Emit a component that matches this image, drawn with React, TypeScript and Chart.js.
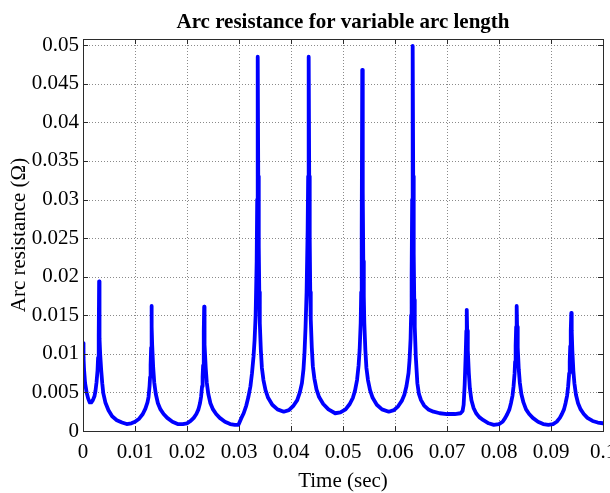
import React, { useEffect, useRef } from "react";
import { Chart, registerables } from "chart.js";

Chart.register(...registerables);

const TITLE = "Arc resistance for variable arc length";
const X_LABEL = "Time (sec)";
const Y_LABEL = "Arc resistance (Ω)";

const xTickValues = [0, 0.01, 0.02, 0.03, 0.04, 0.05, 0.06, 0.07, 0.08, 0.09, 0.1];
const xTickLabels = ["0", "0.01", "0.02", "0.03", "0.04", "0.05", "0.06", "0.07", "0.08", "0.09", "0.1"];
const yTickValues = [0, 0.005, 0.01, 0.015, 0.02, 0.025, 0.03, 0.035, 0.04, 0.045, 0.05];
const yTickLabels = ["0", "0.005", "0.01", "0.015", "0.02", "0.025", "0.03", "0.035", "0.04", "0.045", "0.05"];

const X_MIN = 0;
const X_MAX = 0.1;
const Y_MIN = 0;
const Y_MAX = 0.0508;

const time = [
  0.0, 0.0001, 0.0002, 0.0004, 0.0007, 0.001, 0.0013, 0.0016, 0.0019, 0.0022, 0.0024, 0.0026, 0.0028, 0.0029, 0.003, 0.00305,
  0.0031, 0.00315, 0.0032, 0.0033, 0.0035, 0.0037, 0.0039, 0.0043, 0.0049, 0.0056, 0.0065, 0.0075, 0.0084, 0.0093, 0.01,
  0.0108, 0.0115, 0.012, 0.0124, 0.0126, 0.0128, 0.0129, 0.013, 0.0131, 0.01315, 0.0132, 0.01325, 0.0133, 0.0135, 0.0137,
  0.014, 0.0144, 0.0149, 0.0155, 0.0162, 0.0172, 0.0182, 0.0192, 0.02, 0.0207, 0.0213, 0.0218, 0.0222, 0.0225, 0.0227,
  0.0229, 0.023, 0.0231, 0.0232, 0.02325, 0.0233, 0.02335, 0.0234, 0.0236, 0.0238, 0.0241, 0.0245, 0.025, 0.0256, 0.0263,
  0.0273, 0.0283, 0.0292, 0.0299, 0.0304, 0.0309, 0.0314, 0.0318, 0.0322, 0.0325, 0.0328, 0.033, 0.0332, 0.0334, 0.0335,
  0.0336, 0.0337, 0.0338, 0.0339, 0.034, 0.0342, 0.0344, 0.0347, 0.0351, 0.0356, 0.0364, 0.0374, 0.0386, 0.0396, 0.0405,
  0.0412, 0.0417, 0.0421, 0.0424, 0.0426, 0.0428, 0.043, 0.0432, 0.0433, 0.0434, 0.0435, 0.0436, 0.0437, 0.0438, 0.044,
  0.0442, 0.0445, 0.0449, 0.0454, 0.0462, 0.0472, 0.0485, 0.0495, 0.0505, 0.0513, 0.0519, 0.0523, 0.0527, 0.053, 0.0532,
  0.0534, 0.0535, 0.0536, 0.0537, 0.0538, 0.0539, 0.054, 0.0541, 0.0543, 0.0545, 0.0548, 0.0552, 0.0557, 0.0565, 0.0575,
  0.0588, 0.0598, 0.0606, 0.0613, 0.0618, 0.0622, 0.0626, 0.0628, 0.063, 0.0631, 0.0632, 0.0633, 0.0634, 0.0635, 0.0636,
  0.0637, 0.0638, 0.064, 0.0643, 0.0646, 0.065, 0.0656, 0.0664, 0.0674, 0.0686, 0.07, 0.0715, 0.0726, 0.073, 0.0732,
  0.0734, 0.0736, 0.07372, 0.0738, 0.07388, 0.074, 0.0742, 0.0744, 0.0747, 0.0751, 0.0756, 0.0762, 0.077, 0.078, 0.079,
  0.08, 0.0807, 0.0812, 0.0816, 0.082, 0.0823, 0.0826, 0.0828, 0.083, 0.0831, 0.0832, 0.0833, 0.0834, 0.08348, 0.0836,
  0.0838, 0.084, 0.0843, 0.0847, 0.0852, 0.0858, 0.0865, 0.0875, 0.0885, 0.0895, 0.0904, 0.0911, 0.0917, 0.0921, 0.0925,
  0.0928, 0.0931, 0.0933, 0.0935, 0.0936, 0.0937, 0.0938, 0.0939, 0.09398, 0.0941, 0.0943, 0.0945, 0.0948, 0.0952, 0.0957,
  0.0963, 0.097, 0.098, 0.099, 0.1,
];

const resistance = [
  0.0114, 0.0095, 0.008, 0.0062, 0.005, 0.0042, 0.0037, 0.0037, 0.004, 0.0045, 0.0052, 0.0063, 0.0079, 0.0095, 0.0112, 0.0125,
  0.0194, 0.015, 0.012, 0.01, 0.0079, 0.0062, 0.0049, 0.0037, 0.0027, 0.0019, 0.0014, 0.0011, 0.0009, 0.001, 0.0012,
  0.0016, 0.0022, 0.0029, 0.0037, 0.0044, 0.0058, 0.007, 0.0085, 0.0108, 0.013, 0.0162, 0.0135, 0.0112, 0.0082, 0.0063,
  0.0048, 0.0036, 0.0028, 0.0022, 0.0017, 0.0012, 0.0009, 0.0009, 0.001, 0.0013, 0.0017, 0.0022, 0.0028, 0.0036, 0.0044,
  0.0058, 0.007, 0.0085, 0.0108, 0.013, 0.0161, 0.0135, 0.0112, 0.0082, 0.0063, 0.0048, 0.0036, 0.0028, 0.0022, 0.0017,
  0.0012, 0.0009, 0.0008, 0.0008, 0.0016, 0.0023, 0.0033, 0.0044, 0.0058, 0.0075, 0.0097, 0.0118, 0.015, 0.022, 0.03,
  0.0485, 0.033, 0.024, 0.018, 0.014, 0.0105, 0.0082, 0.0066, 0.0053, 0.0043, 0.0034, 0.0028, 0.0025, 0.0027, 0.0033,
  0.004, 0.005, 0.0062, 0.008, 0.0102, 0.0135, 0.018, 0.026, 0.033, 0.0485, 0.033, 0.025, 0.018, 0.0145, 0.0108,
  0.0084, 0.0068, 0.0054, 0.0044, 0.0035, 0.0028, 0.0023, 0.0024, 0.0028, 0.0035, 0.0043, 0.0052, 0.0066, 0.0085, 0.0105,
  0.014, 0.018, 0.026, 0.0468, 0.031, 0.022, 0.0175, 0.014, 0.0105, 0.0082, 0.0066, 0.0053, 0.0043, 0.0034, 0.0028,
  0.0025, 0.0027, 0.0032, 0.0039, 0.0047, 0.0058, 0.0075, 0.0092, 0.012, 0.015, 0.02, 0.03, 0.0499, 0.033, 0.023,
  0.017, 0.0135, 0.0096, 0.0062, 0.0048, 0.004, 0.0033, 0.0028, 0.0025, 0.0023, 0.0022, 0.0022, 0.0023, 0.0026, 0.0034,
  0.006, 0.01, 0.013, 0.0157, 0.013, 0.0105, 0.0075, 0.0055, 0.004, 0.003, 0.0023, 0.0018, 0.0014, 0.001, 0.0008,
  0.0009, 0.0012, 0.0017, 0.0022, 0.0028, 0.0036, 0.0046, 0.0058, 0.0075, 0.009, 0.011, 0.0135, 0.0162, 0.0135, 0.0108,
  0.008, 0.0063, 0.0048, 0.0037, 0.0028, 0.0022, 0.0017, 0.0012, 0.0009, 0.0008, 0.0009, 0.0012, 0.0017, 0.0022, 0.0028,
  0.0036, 0.0046, 0.0058, 0.0075, 0.009, 0.011, 0.013, 0.0153, 0.013, 0.0105, 0.0078, 0.0062, 0.0047, 0.0036, 0.0028,
  0.0022, 0.0017, 0.0013, 0.0011, 0.001,
];

const FONT = "'Liberation Serif', 'Times New Roman', serif";

const matlabAxes = {
  id: "matlabAxes",
  beforeDatasetsDraw(chart: any) {
    const { ctx, chartArea, scales } = chart;
    const { left, right, top, bottom } = chartArea;
    const xs = scales.x;
    const ys = scales.y;
    ctx.save();
    ctx.strokeStyle = "#8a8a8a";
    ctx.lineWidth = 1;
    ctx.setLineDash([1, 2]);
    xTickValues.forEach((v) => {
      const px = Math.round(xs.getPixelForValue(v)) + 0.5;
      if (px <= left + 1 || px >= right - 1) return;
      ctx.beginPath();
      ctx.moveTo(px, top);
      ctx.lineTo(px, bottom);
      ctx.stroke();
    });
    yTickValues.forEach((v) => {
      const py = Math.round(ys.getPixelForValue(v)) + 0.5;
      if (py >= bottom - 1 || py <= top + 1) return;
      ctx.beginPath();
      ctx.moveTo(left, py);
      ctx.lineTo(right, py);
      ctx.stroke();
    });
    ctx.restore();
  },
  afterDatasetsDraw(chart: any) {
    const { ctx, chartArea, scales } = chart;
    const { left, right, top, bottom } = chartArea;
    const xs = scales.x;
    const ys = scales.y;
    ctx.save();
    ctx.strokeStyle = "#2b2b2b";
    ctx.lineWidth = 1;
    ctx.setLineDash([]);
    ctx.strokeRect(Math.round(left) + 0.5, Math.round(top) + 0.5, Math.round(right - left), Math.round(bottom - top));
    const tl = 5;
    xTickValues.forEach((v) => {
      const px = Math.round(xs.getPixelForValue(v)) + 0.5;
      ctx.beginPath();
      ctx.moveTo(px, bottom);
      ctx.lineTo(px, bottom - tl);
      ctx.moveTo(px, top);
      ctx.lineTo(px, top + tl);
      ctx.stroke();
    });
    yTickValues.forEach((v) => {
      const py = Math.round(ys.getPixelForValue(v)) + 0.5;
      ctx.beginPath();
      ctx.moveTo(left, py);
      ctx.lineTo(left + tl, py);
      ctx.moveTo(right, py);
      ctx.lineTo(right - tl, py);
      ctx.stroke();
    });
    ctx.restore();
  },
  afterDraw(chart: any) {
    const { ctx, chartArea } = chart;
    const { left, right, top, bottom } = chartArea;
    const cx = (left + right) / 2;
    ctx.save();
    ctx.fillStyle = "#000";
    ctx.textAlign = "center";
    ctx.textBaseline = "alphabetic";
    ctx.font = `bold 21px ${FONT}`;
    ctx.fillText(TITLE, cx, 28);
    ctx.font = `21px ${FONT}`;
    ctx.fillText(X_LABEL, cx, 487);
    ctx.translate(25, (top + bottom) / 2);
    ctx.rotate(-Math.PI / 2);
    ctx.fillText(Y_LABEL, 0, 0);
    ctx.restore();
  },
};

export default function App() {
  const canvasRef = useRef<HTMLCanvasElement | null>(null);

  useEffect(() => {
    const canvas = canvasRef.current;
    if (!canvas) return;
    const points = time.map((t, i) => ({ x: t, y: resistance[i] }));
    const chart = new Chart(canvas, {
      type: "line",
      data: {
        datasets: [
          {
            data: points,
            borderColor: "#0000ff",
            borderWidth: 3.8,
            pointRadius: 0,
            tension: 0,
            fill: false,
            borderJoinStyle: "round",
            borderCapStyle: "round",
          },
        ],
      },
      options: {
        animation: false,
        responsive: false,
        maintainAspectRatio: false,
        layout: { padding: { left: 0, right: 7, top: 39, bottom: 0 } },
        plugins: {
          legend: { display: false },
          title: { display: false },
          tooltip: { enabled: false },
        },
        scales: {
          x: {
            type: "linear",
            min: X_MIN,
            max: X_MAX,
            grid: { display: false, drawTicks: false },
            border: { display: false },
            afterBuildTicks: (scale: any) => {
              scale.ticks = xTickValues.map((v) => ({ value: v }));
            },
            afterFit: (scale: any) => {
              scale.height = 62;
              scale.paddingLeft = 0;
              scale.paddingRight = 0;
            },
            ticks: {
              autoSkip: false,
              maxRotation: 0,
              minRotation: 0,
              padding: 9,
              color: "#000",
              font: { family: FONT, size: 21 },
              callback: (value: any) => {
                const i = xTickValues.findIndex((v) => Math.abs(v - Number(value)) < 1e-9);
                return i >= 0 ? xTickLabels[i] : "";
              },
            },
          },
          y: {
            type: "linear",
            min: Y_MIN,
            max: Y_MAX,
            grid: { display: false, drawTicks: false },
            border: { display: false },
            afterBuildTicks: (scale: any) => {
              scale.ticks = yTickValues.map((v) => ({ value: v }));
            },
            afterFit: (scale: any) => {
              scale.width = 83;
              scale.paddingTop = 0;
              scale.paddingBottom = 0;
            },
            ticks: {
              autoSkip: false,
              padding: 4,
              color: "#000",
              font: { family: FONT, size: 21 },
              callback: (value: any) => {
                const i = yTickValues.findIndex((v) => Math.abs(v - Number(value)) < 1e-9);
                return i >= 0 ? yTickLabels[i] : "";
              },
            },
          },
        },
      },
      plugins: [matlabAxes],
    });
    return () => chart.destroy();
  }, []);

  return (
    <div style={{ position: "absolute", left: 0, top: 0, width: 610, height: 493, background: "#fff" }}>
      <canvas ref={canvasRef} width={610} height={493} />
    </div>
  );
}
